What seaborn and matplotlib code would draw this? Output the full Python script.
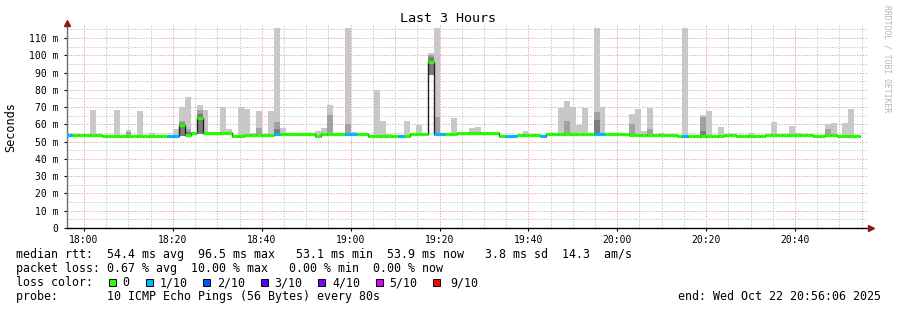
import matplotlib
matplotlib.use("Agg")
import matplotlib.pyplot as plt
import matplotlib.dates as mdates
from matplotlib.ticker import MultipleLocator, FuncFormatter
from matplotlib.patches import Rectangle
import numpy as np
import pandas as pd
import seaborn as sns

# ---------------- data ----------------
start_time = "2025-10-22 17:56:01"
step_seconds = 80

median_ms = [
    53.7, 53.7, 53.7, 53.7, 53.7, 53.7, 53.0, 53.0, 53.0, 53.0,
    53.0, 53.0, 53.0, 53.0, 53.0, 53.0, 53.0, 53.0, 53.0, 59.8,
    54.0, 55.0, 63.5, 55.2, 55.2, 55.2, 55.2, 55.2, 53.5, 53.5,
    54.0, 54.0, 54.0, 54.0, 54.0, 54.3, 54.3, 54.3, 54.3, 54.3,
    54.3, 54.3, 53.5, 54.3, 54.3, 54.3, 54.3, 54.3, 54.3, 54.3,
    54.3, 53.0, 53.0, 53.0, 53.0, 53.0, 53.0, 53.0, 54.3, 54.3,
    54.3, 96.1, 54.3, 54.3, 54.3, 54.3, 54.8, 54.8, 54.8, 54.8,
    54.8, 54.8, 54.8, 53.5, 53.5, 53.5, 53.8, 53.8, 53.8, 53.8,
    53.5, 54.5, 54.5, 54.5, 54.5, 54.5, 54.5, 54.5, 54.5, 54.5,
    54.5, 54.5, 54.5, 54.5, 54.5, 54.0, 54.0, 54.0, 54.0, 54.0,
    54.0, 54.0, 54.0, 53.0, 53.0, 53.0, 53.0, 53.0, 53.0, 53.0,
    53.0, 54.0, 54.0, 53.0, 53.0, 53.0, 53.0, 53.0, 54.0, 54.0,
    54.0, 54.0, 54.0, 54.0, 54.0, 54.0, 53.0, 53.0, 54.0, 54.0,
    53.0, 53.0, 53.0, 53.0,
]

loss_count = [
    1, 0, 0, 0, 0, 0, 0, 0, 0, 0,
    0, 0, 0, 0, 0, 0, 0, 1, 1, 0,
    0, 0, 0, 0, 0, 0, 0, 0, 0, 0,
    0, 0, 0, 0, 0, 1, 0, 0, 0, 0,
    0, 0, 0, 0, 0, 0, 0, 1, 1, 0,
    0, 0, 0, 0, 0, 0, 1, 0, 0, 0,
    0, 0, 1, 1, 0, 0, 0, 0, 0, 0,
    0, 0, 0, 0, 1, 1, 0, 0, 0, 0,
    1, 0, 0, 0, 0, 0, 0, 0, 0, 1,
    1, 0, 0, 0, 0, 0, 0, 0, 0, 0,
    0, 0, 0, 0, 1, 0, 0, 0, 0, 0,
    0, 0, 0, 0, 0, 0, 0, 0, 0, 0,
    0, 0, 0, 0, 0, 0, 0, 0, 0, 0,
    0, 0, 0, 0,
]

smoke_max = [
    None, None, None, None, 68.3, None, None, None, 68.3, None,
    56.7, None, 67.7, None, 55.0, None, None, None, 57.3, 70.0,
    75.8, None, 71.2, 68.3, None, None, 70.0, 57.3, None, 70.0,
    69.0, 55.0, 67.6, None, 67.6, 115.8, 58.0, None, None, None,
    None, None, 56.2, 58.0, 71.2, None, None, 115.8, 55.6, None,
    None, None, 79.9, 62.0, 54.5, None, None, 62.0, None, 59.6,
    None, 101.3, 115.8, None, None, 63.7, None, None, 58.0, 58.5,
    None, None, None, None, None, None, None, 56.2, None, None,
    None, None, None, 69.5, 73.5, 70.0, 59.6, 69.5, None, 115.8,
    70.0, None, None, None, None, 66.0, 69.0, 56.2, 69.5, None,
    55.0, None, None, None, 115.8, None, None, 65.4, 67.7, None,
    58.5, None, None, None, None, 55.0, None, None, None, 61.4,
    None, None, 59.0, 55.0, None, None, None, None, 60.2, 60.8,
    None, 60.8, 69.0, None,
]

mid_steps = [10, 19, 20, 22, 32, 35, 44, 47, 61, 62, 84, 89, 95, 98, 107, 128]
mid_ms = [55.3, 62.0, 57.3, 68.3, 58.0, 61.4, 65.4, 60.2, 100.2, 64.3, 62.0, 67.2, 60.2, 57.3, 64.5, 57.3]
dark_steps = [19, 20, 22, 35, 61, 89, 107]
dark_ms = [61.0, 55.5, 65.8, 57.3, 99.0, 62.5, 56.2]
floor_steps = [19, 20, 22, 61]
floor_ms = [53.0, 53.0, 54.5, 88.6]

y_ticks = [0, 10, 20, 30, 40, 50, 60, 70, 80, 90, 100, 110]

loss_labels = ["0", "1/10", "2/10", "3/10", "4/10", "5/10", "9/10"]
loss_colors = ["#26ff00", "#00b8ff", "#0059ff", "#5e00ff", "#7e00ff", "#dd00ff", "#ff0000"]

title = "Last 3 Hours"
line1 = "median rtt:  54.4 ms avg  96.5 ms max   53.1 ms min  53.9 ms now   3.8 ms sd  14.3  am/s"
line2 = "packet loss: 0.67 % avg  10.00 % max   0.00 % min  0.00 % now"
line3 = "loss color:"
line4 = "probe:       10 ICMP Echo Pings (56 Bytes) every 80s"
end_text = "end: Wed Oct 22 20:56:06 2025"

# ---------------- build ----------------
n = len(median_ms)
times = pd.date_range(start_time, periods=n, freq=f"{step_seconds}s")
tnum = mdates.date2num(times.to_pydatetime())
w = step_seconds / 86400.0
med = np.array(median_ms, dtype=float)

smoke_floor = med - 1.0
for s, v in zip(floor_steps, floor_ms):
    smoke_floor[s] = v

sns.set_theme(style="white")
plt.rcParams["font.family"] = ["DejaVu Sans Mono", "DejaVu Sans"]

W, H = 897, 310
fig = plt.figure(figsize=(W / 100, H / 100), dpi=100)
fig.patch.set_facecolor("white")
ax_left, ax_right, ax_bottom, ax_top = 67, 868, 228, 25
ax = fig.add_axes([ax_left / W, 1 - ax_bottom / H, (ax_right - ax_left) / W, (ax_bottom - ax_top) / H])
ax.set_facecolor("white")

# smoke
hi_idx = [i for i, v in enumerate(smoke_max) if v is not None]
hi_vals = np.array([smoke_max[i] for i in hi_idx])
ax.bar(tnum[hi_idx], hi_vals - smoke_floor[hi_idx], bottom=smoke_floor[hi_idx], width=w,
       align="edge", color="#c8c8c8", linewidth=0, zorder=2)
ax.bar(tnum[mid_steps], np.array(mid_ms) - smoke_floor[mid_steps], bottom=smoke_floor[mid_steps], width=w,
       align="edge", color="#a2a2a2", linewidth=0, zorder=2.1)
ax.bar(tnum[dark_steps], np.array(dark_ms) - smoke_floor[dark_steps], bottom=smoke_floor[dark_steps], width=w,
       align="edge", color="#7c7c7c", linewidth=0, zorder=2.2)

# black median step line
t_ext = list(times) + [times[-1] + pd.Timedelta(seconds=step_seconds)]
m_ext = list(med) + [med[-1]]
df = pd.DataFrame({"time": t_ext, "median": m_ext})
sns.lineplot(data=df, x="time", y="median", drawstyle="steps-post", color="#202020",
             lw=1.0, estimator=None, ax=ax, zorder=4)

# coloured median per loss
seg_colors = [loss_colors[c] if c < 6 else loss_colors[6] for c in loss_count]
ax.hlines(med, tnum, tnum + w, colors=seg_colors, lw=2.3, zorder=5, capstyle="butt")

# axes scaling
px_per_min = 711 / 160
t_left = pd.Timestamp("2025-10-22 18:00:00") - pd.Timedelta(minutes=(84 - ax_left) / px_per_min)
t_right = pd.Timestamp("2025-10-22 18:00:00") + pd.Timedelta(minutes=(ax_right - 84) / px_per_min)
ax.set_xlim(mdates.date2num(t_left.to_pydatetime()), mdates.date2num(t_right.to_pydatetime()))
ax.set_ylim(0, (ax_bottom - ax_top) / (190 / 110))

ax.xaxis.set_major_locator(mdates.MinuteLocator(byminute=[0, 20, 40]))
ax.xaxis.set_minor_locator(mdates.MinuteLocator(byminute=range(0, 60, 5)))
ax.xaxis.set_major_formatter(mdates.DateFormatter("%H:%M"))
ax.set_yticks(y_ticks)
ax.yaxis.set_minor_locator(MultipleLocator(5))
ax.yaxis.set_major_formatter(FuncFormatter(lambda v, p: "0" if v == 0 else f"{int(round(v))} m"))

ax.grid(which="minor", color="#c8c8c8", ls=(0, (1.4, 1.4)), lw=0.72, zorder=0)
ax.grid(which="major", color="#f0a8a8", ls=(0, (1.4, 1.4)), lw=0.72, zorder=0.5)
ax.set_axisbelow(True)

ax.set_xlabel("")
ax.set_ylabel("")
for sp in ["top", "right"]:
    ax.spines[sp].set_visible(False)
ax.spines["left"].set_color("#6e6e6e")
ax.spines["left"].set_linewidth(1.0)
ax.spines["bottom"].set_color("#000000")
ax.spines["bottom"].set_linewidth(1.0)
ax.tick_params(axis="both", which="major", labelsize=7, length=2, width=0.8,
               colors="#000000", labelcolor="#000000", pad=3, direction="out", left=True, bottom=True)
ax.tick_params(axis="both", which="minor", length=0)
ax.tick_params(axis="y", pad=4)

# arrows
fig.lines.append(plt.Line2D([67 / W], [1 - 23 / H], marker="^", ms=5, color="#8b1a1a",
                            transform=fig.transFigure))
fig.lines.append(plt.Line2D([871 / W], [1 - 228 / H], marker=">", ms=5, color="#8b1a1a",
                            transform=fig.transFigure))

# texts
fig.text(448 / W, 1 - 19 / H, title, ha="center", va="center", fontsize=9.6, color="#000000")
fig.text(11 / W, 1 - 127 / H, "Seconds", rotation=90, ha="center", va="center", fontsize=8.6, color="#000000")
fig.text(887 / W, 1 - 59 / H, "RRDTOOL / TOBI OETIKER", rotation=270, ha="center", va="center",
         fontsize=5.8, color="#b4b4b4")

fs = 8.37
for txt, yc in [(line1, 254.5), (line2, 268.5), (line3, 282.5), (line4, 296.5)]:
    fig.text(16 / W, 1 - yc / H, txt, ha="left", va="center", fontsize=fs, color="#000000")
fig.text(678 / W, 1 - 296.5 / H, end_text, ha="left", va="center", fontsize=fs, color="#000000")

box_x = [109, 145.7, 203.3, 261, 318.3, 375.7, 433.3]
lab_x = [122.5, 159.5, 217, 274.5, 332, 389.5, 450]
for bx, lx, lab, col in zip(box_x, lab_x, loss_labels, loss_colors):
    fig.patches.append(Rectangle((bx / W, 1 - 286 / H), 7 / W, 7 / H, transform=fig.transFigure,
                                 facecolor=col, edgecolor="#000000", lw=0.7))
    fig.text(lx / W, 1 - 282.5 / H, lab, ha="left", va="center", fontsize=fs, color="#000000")

fig.savefig("out.png", dpi=100, facecolor="white")
